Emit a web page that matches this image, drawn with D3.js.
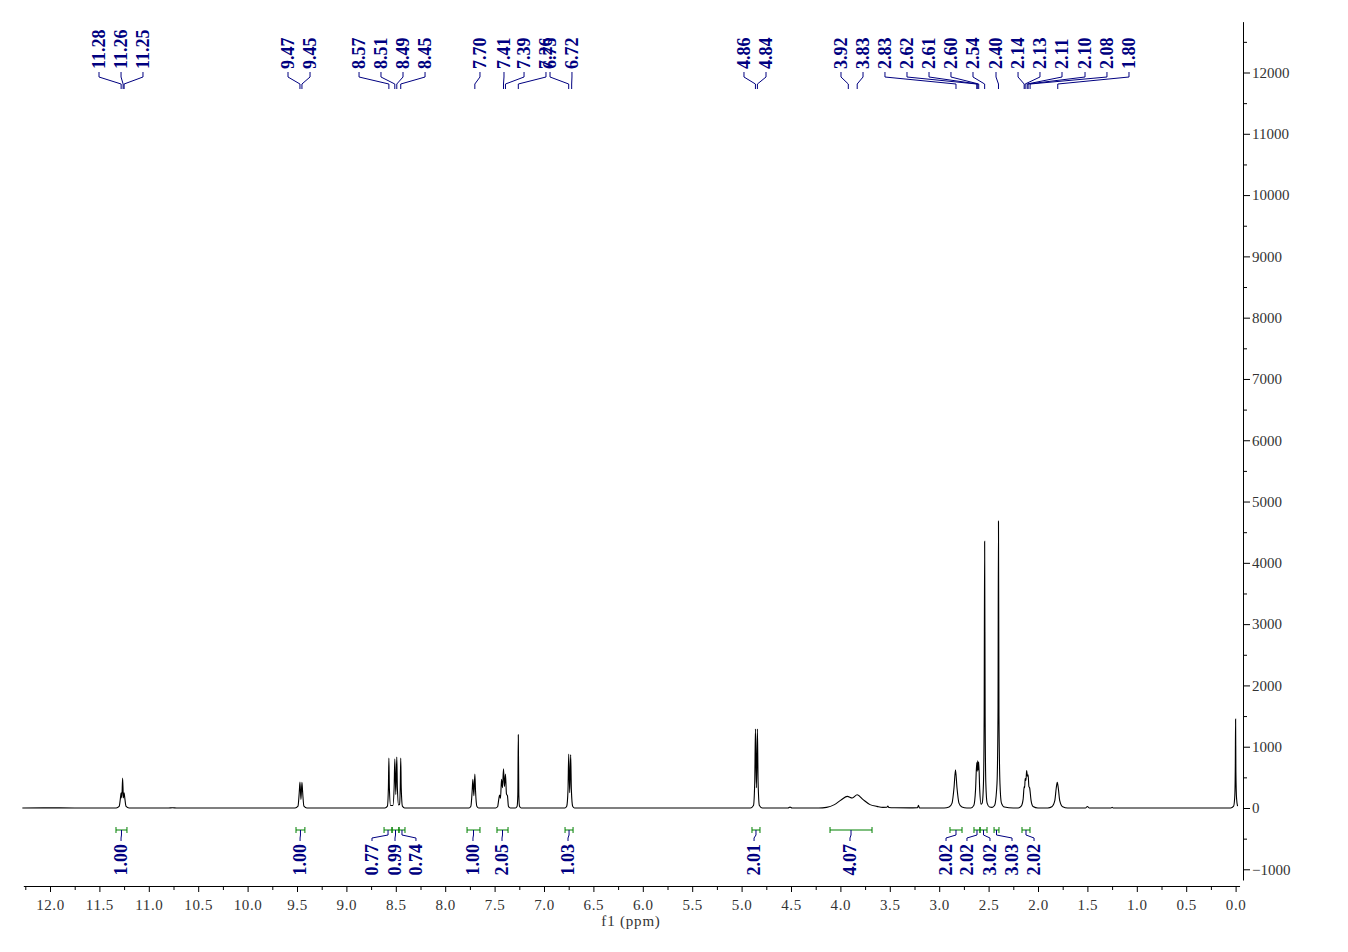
<!DOCTYPE html>
<html><head><meta charset="utf-8">
<script src="https://cdn.jsdelivr.net/npm/d3@7"></script>
<style>
body{margin:0;background:#fff}
svg{display:block}
</style>
</head><body>
<svg id="c" width="1348" height="952"></svg>
<script>
// ---- data (ppm, intensity) ----
const spectrum = [
[12.28,0],[11.9,2],[11.6,0],[11.33,0],[11.30,25],[11.285,190],[11.28,250],[11.273,165],[11.265,490],[11.257,165],[11.25,250],[11.245,190],[11.23,25],[11.20,0],
[10.80,0],[10.76,4],[10.72,0],
[9.52,0],[9.49,30],[9.477,260],[9.47,425],[9.46,140],[9.45,420],[9.443,260],[9.43,30],[9.40,0],
[8.61,0],[8.585,30],[8.575,330],[8.57,815],[8.565,330],[8.553,40],[8.53,40],[8.517,330],[8.51,800],[8.50,220],[8.49,830],[8.484,330],[8.472,50],[8.462,60],[8.455,330],[8.45,815],[8.445,330],[8.433,30],[8.41,0],
[7.76,0],[7.74,30],[7.727,280],[7.72,470],[7.71,200],[7.70,555],[7.693,280],[7.68,30],[7.66,0],
[7.49,0],[7.47,20],[7.457,150],[7.45,210],[7.44,160],[7.43,470],[7.42,330],[7.41,640],[7.40,350],[7.39,555],[7.38,230],[7.37,200],[7.36,30],[7.34,0],
[7.29,0],[7.272,30],[7.265,220],[7.26,1195],[7.255,220],[7.248,30],[7.23,0],
[6.79,0],[6.77,30],[6.757,300],[6.75,880],[6.74,250],[6.73,870],[6.723,300],[6.71,30],[6.69,0],
[4.91,0],[4.88,40],[4.867,420],[4.86,1290],[4.85,330],[4.84,1290],[4.833,420],[4.82,40],[4.79,0],
[4.53,0],[4.51,15],[4.49,0],
[4.22,0],[4.14,10],[4.06,55],[3.99,135],[3.93,190],[3.88,163],[3.83,217],[3.77,136],[3.70,55],[3.63,27],[3.57,10],[3.53,12],[3.52,30],[3.51,8],[3.45,4],[3.30,2],[3.22,3],[3.21,45],[3.20,2],[3.00,0],
[2.95,0],[2.90,15],[2.87,80],[2.85,330],[2.835,625],[2.82,330],[2.80,80],[2.77,15],[2.72,0],
[2.68,0],[2.65,40],[2.632,300],[2.62,740],[2.615,600],[2.61,770],[2.605,620],[2.60,750],[2.59,300],[2.577,60],[2.565,80],[2.552,400],[2.545,1500],[2.54,4350],[2.535,1500],[2.528,400],[2.515,80],[2.49,15],[2.465,10],[2.44,40],[2.415,400],[2.405,1500],[2.40,4680],[2.395,1500],[2.385,400],[2.37,80],[2.34,15],[2.25,0],
[2.20,0],[2.17,30],[2.15,150],[2.14,350],[2.135,330],[2.13,480],[2.122,450],[2.115,610],[2.107,520],[2.10,540],[2.092,350],[2.085,330],[2.07,120],[2.05,25],[2.00,0],
[1.90,0],[1.86,20],[1.83,120],[1.815,330],[1.805,420],[1.795,330],[1.78,120],[1.75,20],[1.70,0],
[1.52,0],[1.50,25],[1.48,0],[1.26,0],[1.25,10],[1.24,0],
[0.05,0],[0.02,30],[0.008,200],[0.003,700],[0.0,1450],[-0.003,600],[-0.01,150],[-0.02,30]
];

const peakLabels = [11.28,11.26,11.25,9.47,9.45,8.57,8.51,8.49,8.45,7.70,7.41,7.39,7.26,6.75,6.72,4.86,4.84,3.92,3.83,2.83,2.62,2.61,2.60,2.54,2.40,2.14,2.13,2.11,2.10,2.08,1.80];
// where each label text sits along the ppm axis (after spreading)
const peakLabelAt = [11.504,11.281,11.059,9.591,9.368,8.872,8.650,8.427,8.204,7.648,7.405,7.202,6.980,6.939,6.717,4.976,4.753,3.994,3.771,3.549,3.326,3.103,2.881,2.658,2.425,2.202,1.980,1.757,1.524,1.302,1.079];

const integralValues = ["1.00","1.00","0.77","0.99","0.74","1.00","2.05","1.03","2.01","4.07","2.02","2.02","3.02","3.03","2.02"];
const integralFrom = [11.332,9.51,8.619,8.538,8.468,7.779,7.476,6.787,4.895,4.105,2.891,2.648,2.587,2.445,2.162];
const integralTo   = [11.221,9.42,8.538,8.468,8.407,7.648,7.364,6.706,4.814,3.680,2.769,2.587,2.516,2.395,2.081];
const integralLabelAt = [11.281,9.469,8.741,8.508,8.296,7.719,7.425,6.757,4.874,3.903,2.931,2.719,2.486,2.263,2.040];

const xTickValues = [12.0,11.5,11.0,10.5,10.0,9.5,9.0,8.5,8.0,7.5,7.0,6.5,6.0,5.5,5.0,4.5,4.0,3.5,3.0,2.5,2.0,1.5,1.0,0.5,0.0];
const yTickValues = [-1000,0,1000,2000,3000,4000,5000,6000,7000,8000,9000,10000,11000,12000];
const xAxisTitle = "f1 (ppm)";

// ---- layout ----
const svg = d3.select("#c");
const NAVY = "#000080", GREEN = "#008000";
const SERIF = "'Liberation Serif','Times New Roman',serif";

const x = d3.scaleLinear().domain([12, 0]).range([50, 1235.6]);
const y = d3.scaleLinear().domain([0, 12000]).range([808, 72.5]);

const xAxisY = 886, yAxisX = 1243;
const xDom = [12.27, -0.04], yDom = [-1175, 12830];

// x axis
const xa = x.copy().domain(xDom).range(xDom.map(x));
const minorX = d3.range(0, 49).map(i => 12.25 - i * 0.25).filter(v => Math.abs((v*2) - Math.round(v*2)) > 1e-6);
const gx = svg.append("g").attr("transform", `translate(0,${xAxisY})`);
gx.call(d3.axisBottom(xa).tickValues(xTickValues).tickSize(6).tickSizeOuter(0).tickPadding(7).tickFormat(d3.format(".1f")));
gx.append("g").call(d3.axisBottom(xa).tickValues(minorX).tickSize(4).tickSizeOuter(0).tickFormat(""))
  .select(".domain").remove();
gx.selectAll("text").attr("font-family", SERIF).attr("font-size", 15).attr("fill", "#333").attr("letter-spacing", "0.6px");
gx.selectAll("line,path").attr("stroke", "#000");

svg.append("text").attr("x", 631).attr("y", 926).attr("text-anchor", "middle")
  .attr("font-family", SERIF).attr("font-size", 15).attr("fill", "#333").attr("letter-spacing", "0.8px")
  .text(xAxisTitle);

// y axis
const ya = y.copy().domain(yDom).range(yDom.map(y));
const minorY = d3.range(-500, 13000, 1000);
const gy = svg.append("g").attr("transform", `translate(${yAxisX},0)`);
gy.call(d3.axisRight(ya).tickValues(yTickValues).tickSize(7).tickSizeOuter(0).tickPadding(2).tickFormat(d3.format("d")));
gy.append("g").call(d3.axisRight(ya).tickValues(minorY).tickSize(4).tickSizeOuter(0).tickFormat(""))
  .select(".domain").remove();
gy.selectAll("text").attr("font-family", SERIF).attr("font-size", 15).attr("fill", "#333");
gy.selectAll("line,path").attr("stroke", "#000");

// spectrum
svg.append("path").datum(spectrum)
  .attr("fill", "none").attr("stroke", "#000").attr("stroke-width", 1.1)
  .attr("d", d3.line().x(d => x(d[0])).y(d => y(d[1])).curve(d3.curveMonotoneX));

// peak labels
const gp = svg.append("g");
peakLabels.forEach((p, i) => {
  const lx = x(peakLabelAt[i]), px = x(p);
  gp.append("path").attr("fill", "none").attr("stroke", NAVY).attr("stroke-width", 1)
    .attr("d", `M${lx},72V77L${px},84V89`);
  gp.append("text").attr("transform", `translate(${lx},69) rotate(-90)`)
    .attr("dy", "0.35em").attr("text-anchor", "start")
    .attr("font-family", SERIF).attr("font-weight", "bold").attr("font-size", 18).attr("fill", NAVY)
    .text(p.toFixed(2));
});

// integrals
const gi = svg.append("g");
integralValues.forEach((v, i) => {
  const x1 = x(integralFrom[i]), x2 = x(integralTo[i]);
  const cx = (x1 + x2) / 2, lx = x(integralLabelAt[i]);
  gi.append("path").attr("fill", "none").attr("stroke", GREEN).attr("stroke-width", 1)
    .attr("d", `M${x1},830H${x2}M${x1},827V833M${x2},827V833`);
  gi.append("path").attr("fill", "none").attr("stroke", NAVY).attr("stroke-width", 1)
    .attr("d", `M${cx},830V835L${lx},838V841`);
  gi.append("text").attr("transform", `translate(${lx},844) rotate(-90)`)
    .attr("dy", "0.35em").attr("text-anchor", "end")
    .attr("font-family", SERIF).attr("font-weight", "bold").attr("font-size", 18).attr("fill", NAVY)
    .text(v);
});
</script>
</body></html>
